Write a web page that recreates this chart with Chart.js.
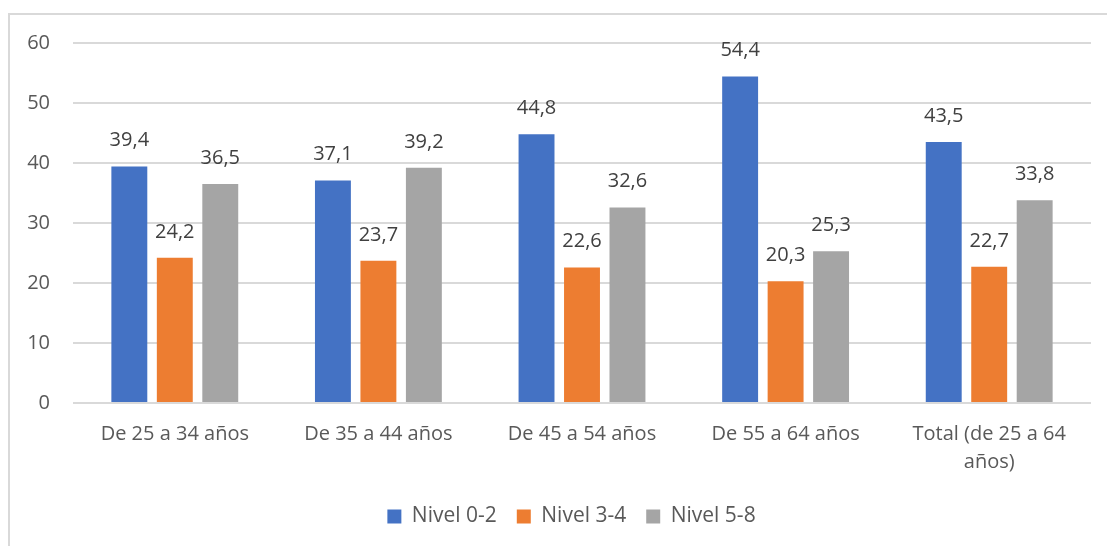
<!DOCTYPE html>
<html>
<head>
<meta charset="utf-8">
<script src="https://cdn.jsdelivr.net/npm/chart.js@4.4.1/dist/chart.umd.min.js"></script>
<style>
  html, body { margin: 0; padding: 0; background: #fff; }
  #wrap { position: relative; width: 1107px; height: 546px; overflow: hidden; }
  #frame { position: absolute; left: 8px; top: 13px; width: 1200px; height: 600px;
           border-left: 2px solid #d9d9d9; border-top: 2px solid #d9d9d9; }
  #mycanvas { position: absolute; left: 0; top: 0; }
</style>
</head>
<body>
<div id="wrap">
  <div id="frame"></div>
  <canvas id="mycanvas" width="1107" height="546"></canvas>
</div>
<script>
var categories = ['De 25 a 34 años', 'De 35 a 44 años', 'De 45 a 54 años', 'De 55 a 64 años', ['Total (de 25 a 64', 'años)']];
var nivel02 = [39.4, 37.1, 44.8, 54.4, 43.5];
var nivel34 = [24.2, 23.7, 22.6, 20.3, 22.7];
var nivel58 = [36.5, 39.2, 32.6, 25.3, 33.8];
var yTicks = [0, 10, 20, 30, 40, 50, 60];

var fontFamily = "'Open Sans', 'Noto Sans', sans-serif";

// labels above each bar, comma decimal
var barLabels = {
	id: 'barLabels',
	beforeDraw: function(chart) {
		// legend centred under the plot area like the original
		chart.legend.left = 52;
	},
	afterDatasetsDraw: function(chart) {
		var ctx = chart.ctx;
		ctx.save();
		ctx.font = '20px ' + fontFamily;
		ctx.fillStyle = '#404040';
		ctx.textAlign = 'center';
		ctx.textBaseline = 'middle';
		chart.data.datasets.forEach(function(ds, i) {
			chart.getDatasetMeta(i).data.forEach(function(bar, j) {
				ctx.fillText(ds.data[j].toFixed(1).replace('.', ','), bar.x, bar.y - 26);
			});
		});
		ctx.restore();
	}
};

var chartdata = {
	labels: categories,
	datasets: [
		{ label: 'Nivel 0-2', backgroundColor: '#4472C4', data: nivel02 },
		{ label: 'Nivel 3-4', backgroundColor: '#ED7D31', data: nivel34 },
		{ label: 'Nivel 5-8', backgroundColor: '#A5A5A5', data: nivel58 }
	]
};

var ctx = document.getElementById('mycanvas');
var barGraph = new Chart(ctx, {
	type: 'bar',
	data: chartdata,
	plugins: [barLabels],
	options: {
		responsive: false,
		animation: false,
		datasets: { bar: { categoryPercentage: 0.67, barPercentage: 0.79 } },
		layout: { padding: { top: 43, right: 16, left: 0, bottom: 9 } },
		plugins: {
			tooltip: { enabled: false },
			legend: {
				position: 'bottom',
				labels: {
					boxWidth: 14, boxHeight: 14, padding: 20,
					color: '#595959',
					font: { size: 21, family: fontFamily }
				}
			}
		},
		scales: {
			x: {
				afterFit: function(axis) { axis.height = 83; },
				grid: { display: false },
				border: { display: false },
				ticks: {
					color: '#595959', padding: 9, maxRotation: 0, autoSkip: false,
					font: { size: 20, family: fontFamily, lineHeight: 1.4 }
				}
			},
			y: {
				min: 0, max: 60,
				afterBuildTicks: function(axis) {
					axis.ticks = yTicks.map(function(v) { return { value: v }; });
				},
				afterFit: function(axis) { axis.width = 73; },
				grid: { color: '#d9d9d9', lineWidth: 2, drawTicks: false },
				border: { display: false },
				ticks: {
					color: '#595959', padding: 23,
					font: { size: 20, family: fontFamily }
				}
			}
		}
	}
});
</script>
</body>
</html>
